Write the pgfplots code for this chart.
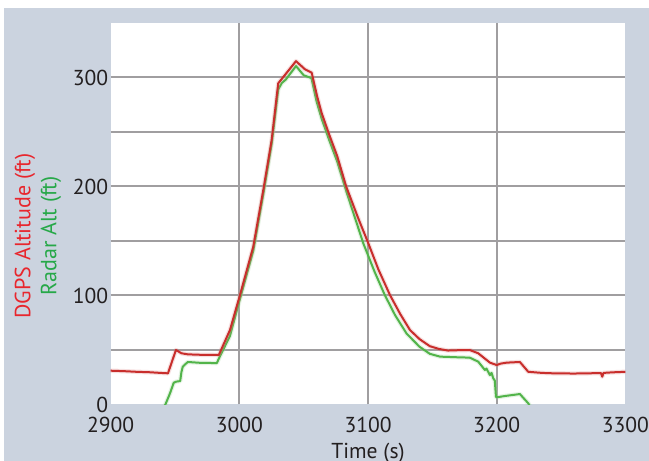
\documentclass[border=0pt]{standalone}
\usepackage{fontspec}
\setmainfont{PT Sans}
\usepackage{pgfplots}
\usepackage{pgfplotstable}
\pgfplotsset{compat=1.18}

\definecolor{bgblue}{RGB}{203,211,223}
\definecolor{gridgray}{RGB}{160,158,160}
\definecolor{dgpsred}{RGB}{200,46,44}
\definecolor{radargreen}{RGB}{82,180,74}
\definecolor{labelred}{RGB}{232,38,45}
\definecolor{labelgreen}{RGB}{38,168,72}
\definecolor{ticktext}{RGB}{35,31,32}

% DGPS altitude (ft) vs time (s)
\pgfplotstableread{
t      v
2900   31.0
2910   30.6
2920   30.0
2930   29.6
2940   28.9
2944.5 28.6
2950.7 50.0
2955   47.0
2960   46.0
2970   45.6
2984   45.4
2992.7 68.3
3000.5 100.5
3010.8 144.8
3018.6 196.8
3025.1 242.7
3030.2 294.7
3035.4 302.3
3044   315.0
3051   307.5
3056.2 304.4
3060.5 282.4
3064   267.2
3070   247.0
3076   228.0
3083   200.0
3092   172.0
3100.2 147.9
3108   124.0
3117   100.5
3125   83.0
3132.6 68.3
3140   60.0
3148   53.5
3155   51.0
3162   49.5
3170   49.8
3179   50.0
3185.6 47.0
3194.7 38.4
3200   36.2
3203   37.5
3207.7 38.4
3218   39.0
3224.5 30.0
3235   29.0
3244   28.6
3260   28.4
3270   28.6
3281   28.8
3282   25.5
3283   29.0
3290   29.5
3300   30.0
}\dgps

% Radar altitude (ft) vs time (s)
\pgfplotstableread{
t      v
2941.5 -2.0
2942.5 0.0
2946   10.0
2949   20.0
2951   21.0
2954   21.5
2955   30.0
2956   34.7
2958   37.0
2960   39.0
2970   38.2
2982.5 38.0
2984   42.0
2992.7 63.0
3000.5 97.0
3010.8 141.0
3018.6 193.0
3025.1 239.0
3030.2 289.0
3033   295.0
3036   298.0
3044   310.5
3050   302.0
3056   299.5
3060   278.0
3064   262.0
3070   242.0
3076   223.0
3083   196.0
3096.3 147.9
3105   122.0
3113   100.5
3121   82.0
3130   65.0
3140   53.0
3148   46.5
3156   43.9
3170   43.3
3179   43.0
3185.6 39.3
3190.8 31.7
3192   33.0
3194.7 27.0
3196   29.0
3197.3 24.0
3198.5 22.0
3199.4 7.2
3200   6.6
3206.4 7.8
3218   9.6
3224.5 1.1
3226   -2.0
}\radar

\begin{document}
\begin{tikzpicture}
\useasboundingbox (0,0) rectangle (324.5pt,230.5pt);
\begin{scope}
\clip (0,0) rectangle (324.5pt,230.5pt);
\begin{scope}[x=0.5pt,y=0.5pt]
\fill[white] (0,0) rectangle (649,461);
\fill[bgblue] (4,0) rectangle (649,453);
\node[rotate=90, text=labelred, font=\fontsize{11}{12}\selectfont] at (25,225) {DGPS Altitude (ft)};
\node[rotate=90, text=labelgreen, font=\fontsize{11}{12}\selectfont] at (51,225) {Radar Alt (ft)};
\end{scope}
\begin{axis}[
  at={(55.35pt,28.25pt)}, anchor=south west,
  scale only axis, width=257.35pt, height=190.75pt,
  xmin=2900, xmax=3300, ymin=0, ymax=350,
  xtick={3000,3100,3200}, ytick={100,200,300}, minor ytick={50,150,250},
  extra x ticks={2900,3300}, extra y ticks={0},
  extra tick style={grid=none},
  grid=both,
  major grid style={gridgray, line width=1pt},
  minor grid style={gridgray, line width=1pt},
  axis line style={draw=none}, tick style={draw=none},
  axis background/.style={fill=white},
  tick label style={font=\fontsize{10.8}{12}\selectfont, text=ticktext},
  xticklabel style={anchor=north, yshift=-2.75pt},
  yticklabel style={xshift=2.25pt},
  /pgf/number format/assume math mode=true,
  /pgf/number format/1000 sep={},
  xlabel={Time (s)},
  xlabel style={at={(axis description cs:0.5,0)}, anchor=base, yshift=-27pt,
    font=\fontsize{10.8}{12}\selectfont, text=ticktext},
  clip=true,
]
\addplot[radargreen!50, opacity=0.3, line width=2.2pt, line join=round] table[x=t,y=v] {\radar};
\addplot[radargreen, line width=1pt, line join=round] table[x=t,y=v] {\radar};
\addplot[dgpsred!60, opacity=0.25, line width=2.2pt, line join=round] table[x=t,y=v] {\dgps};
\addplot[dgpsred, line width=1pt, line join=round] table[x=t,y=v] {\dgps};
\end{axis}
\end{scope}
\end{tikzpicture}
\end{document}
